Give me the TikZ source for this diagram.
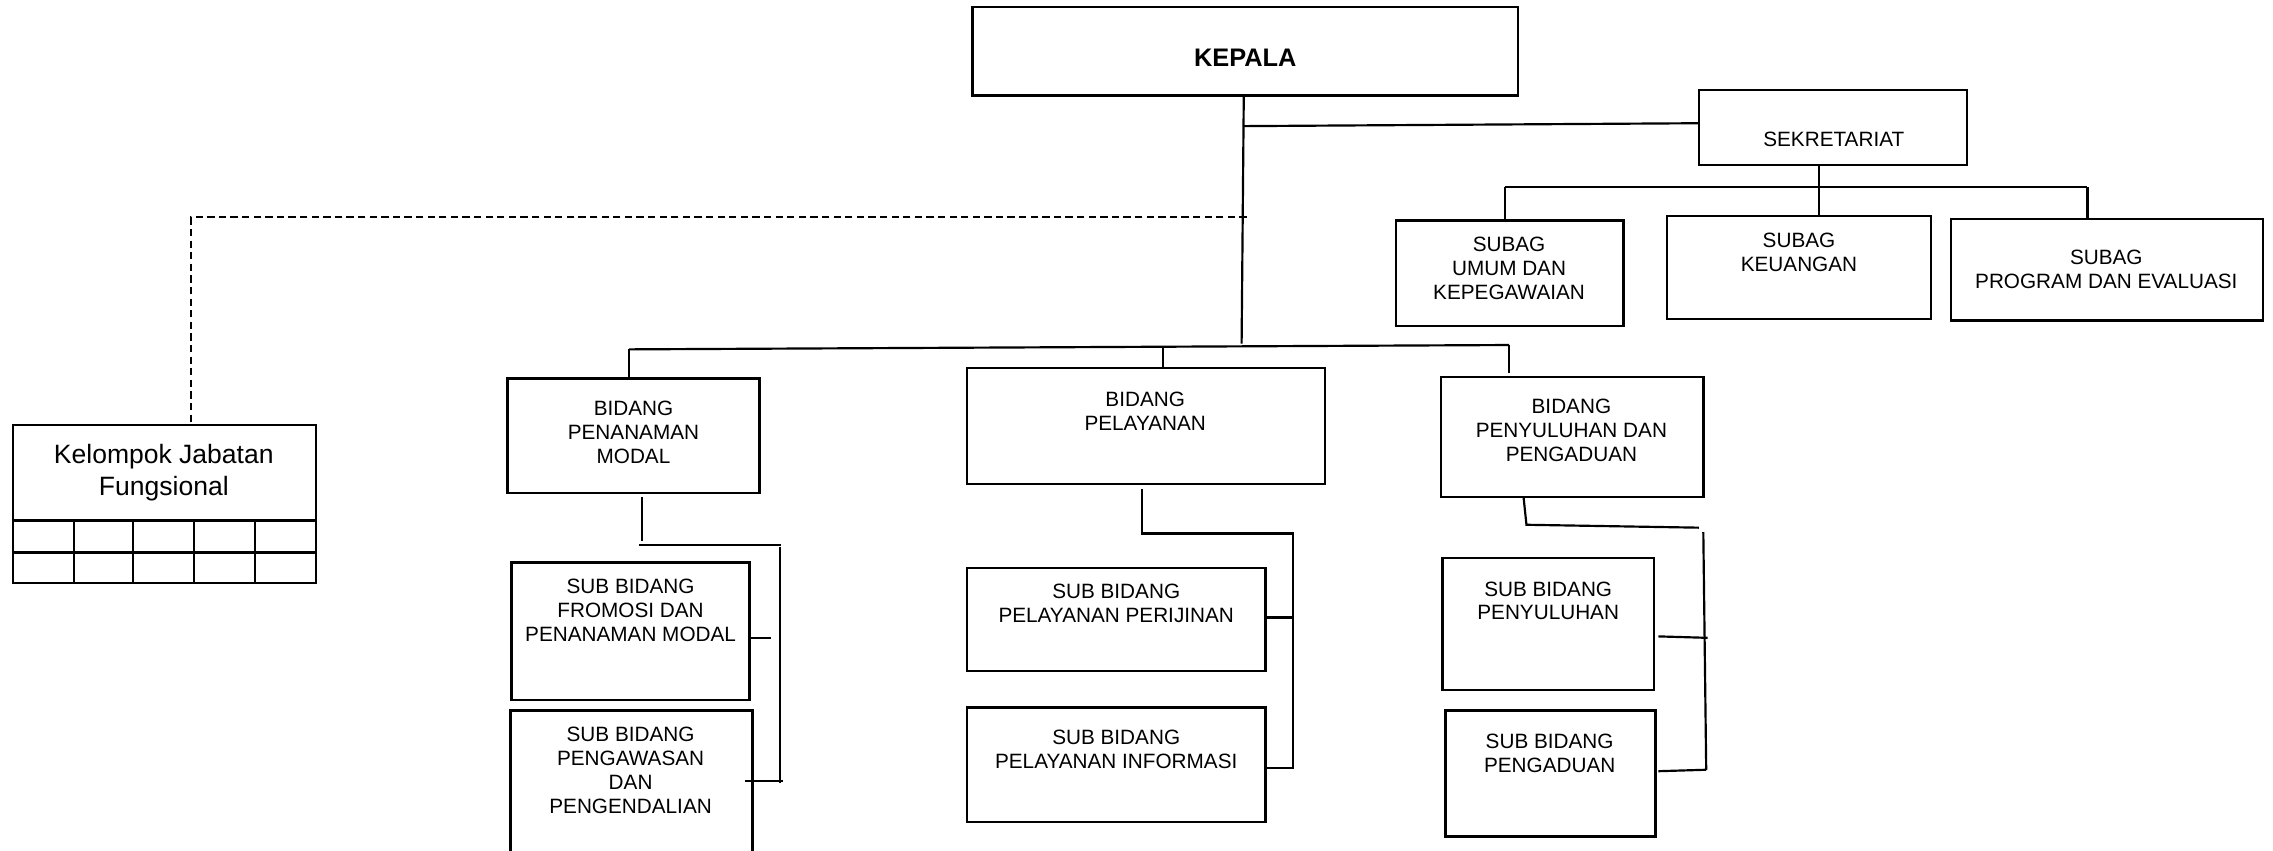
\documentclass[tikz,border=0pt]{standalone}
\usepackage{fontspec}
\setmainfont{Liberation Sans}
\begin{document}
\begin{tikzpicture}[x=1pt,y=-1pt]
\tikzset{
  box/.style={draw=black, line width=1.7pt, inner sep=0pt, fill=white},
  txt/.style={inner sep=0pt, align=center, font=\fontsize{14.3}{16.5}\selectfont},
  conn/.style={draw=black, line width=1.5pt},
  dashconn/.style={draw=black, line width=1.4pt, dash pattern=on 5pt off 3pt}
}
\useasboundingbox (0,0) rectangle (1568,587);
\clip (0,0) rectangle (1568,587);
\fill[white] (0,0) rectangle (1568,587);

% ---- boxes ----
\node[box, minimum width=376pt, minimum height=61pt] (kepala) at (859,35.5) {};
\node[box, minimum width=185pt, minimum height=52pt] (sek) at (1264.5,88) {};
\node[box, minimum width=157pt, minimum height=73pt] (sumum) at (1041.5,188.5) {};
\node[box, minimum width=182pt, minimum height=71pt] (skeu) at (1241,184.5) {};
\node[box, minimum width=215pt, minimum height=70pt] (sprog) at (1453.5,186) {};
\node[box, minimum width=209pt, minimum height=109pt] (kjf) at (113.5,347.5) {};
\node[box, minimum width=174pt, minimum height=79pt] (bpm) at (437,300.5) {};
\node[box, minimum width=247pt, minimum height=80pt] (bpel) at (790.5,294) {};
\node[box, minimum width=181pt, minimum height=83pt] (bpp) at (1084.5,301.5) {};
\node[box, minimum width=164pt, minimum height=95pt] (sfro) at (435,435.5) {};
\node[box, minimum width=167pt, minimum height=110pt] (speng) at (435.5,545) {};
\node[box, minimum width=206pt, minimum height=71pt] (sperij) at (770,427.5) {};
\node[box, minimum width=206pt, minimum height=79pt] (sinfo) at (770,527.5) {};
\node[box, minimum width=146pt, minimum height=91pt] (speny) at (1068,430.5) {};
\node[box, minimum width=145pt, minimum height=87pt] (spengad) at (1069.5,533.5) {};

% ---- grid of Kelompok Jabatan Fungsional ----
\draw[line width=1.7pt] (9,359) -- (218,359);
\draw[line width=1.7pt] (9,381) -- (218,381);
\foreach \gx in {51,92,134,176} { \draw[line width=1.5pt] (\gx,359) -- (\gx,402); }

% ---- texts ----
\node[txt, font=\fontsize{17.5}{20}\selectfont\bfseries] (kepalaT) at (859,40) {KEPALA};
\node[txt] (sekT) at (1265,96) {SEKRETARIAT};
\node[txt] (sumumT) at (1041,185) {SUBAG\\UMUM DAN\\KEPEGAWAIAN};
\node[txt] (skeuT) at (1241,174) {SUBAG\\KEUANGAN};
\node[txt] (sprogT) at (1453,185.5) {SUBAG\\PROGRAM DAN EVALUASI};
\node[txt, font=\fontsize{18.3}{22}\selectfont] (kjfT) at (113,326) {Kelompok Jabatan\\Fungsional};
\node[txt] (bpmT) at (437,298) {BIDANG\\PENANAMAN\\MODAL};
\node[txt] (bpelT) at (790,283.5) {BIDANG\\PELAYANAN};
\node[txt] (bppT) at (1084,297) {BIDANG\\PENYULUHAN DAN\\PENGADUAN};
\node[txt] (sfroT) at (435,421) {SUB BIDANG\\FROMOSI DAN\\PENANAMAN MODAL};
\node[txt] (spengT) at (435,531.5) {SUB BIDANG\\PENGAWASAN\\DAN\\PENGENDALIAN};
\node[txt] (sperijT) at (770,416) {SUB BIDANG\\PELAYANAN PERIJINAN};
\node[txt] (sinfoT) at (770,517) {SUB BIDANG\\PELAYANAN INFORMASI};
\node[txt] (spenyT) at (1068,414.5) {SUB BIDANG\\PENYULUHAN};
\node[txt] (spengadT) at (1069,520) {SUB BIDANG\\PENGADUAN};

% ---- junction coordinates ----
\coordinate (ktop) at (858,66);
\coordinate (mainbot) at (856.5,237);
\coordinate (jsek) at (858,87);
\coordinate (sekin) at (1172,85);
\coordinate (sekb) at (1255,114);
\coordinate (sbarL) at (1038,129);
\coordinate (sbarM) at (1255,129);
\coordinate (sbarR) at (1440,129);
\coordinate (sumumIn) at (1038,152);
\coordinate (skeuIn) at (1255,149);
\coordinate (sprogIn) at (1440,151);
\coordinate (dashR) at (860,150);
\coordinate (dashC) at (132,150);
\coordinate (kjfIn) at (132,293);
\coordinate (bbarL) at (434,241);
\coordinate (bbarM) at (802,239.5);
\coordinate (bbarR) at (1041,238);
\coordinate (bpmIn) at (434,261);
\coordinate (bpelIn) at (802,254);
\coordinate (bppIn) at (1041,257);
% penanaman modal branch
\coordinate (pmA) at (443,343);
\coordinate (pmB) at (443,373);
\coordinate (pmC) at (441,376);
\coordinate (pmD) at (539,376);
\coordinate (pmV1) at (538,377);
\coordinate (pmV2) at (538,540);
\coordinate (pmS1) at (532,440);
\coordinate (pmS2a) at (514,539);
\coordinate (pmS2b) at (540,539);
% pelayanan branch
\coordinate (plA) at (788,337);
\coordinate (plB) at (788,367);
\coordinate (plC) at (787,368);
\coordinate (plD) at (892,368);
\coordinate (plE) at (892,530);
\coordinate (plS1) at (892,426);
% penyuluhan branch
\coordinate (pyA) at (1051,343);
\coordinate (pyB) at (1053,362);
\coordinate (pyC) at (1172,364);
\coordinate (pyV1) at (1175,367);
\coordinate (pyV2) at (1177,531);
\coordinate (pyS1a) at (1144,439);
\coordinate (pyS1b) at (1178,440);
\coordinate (pyS2a) at (1144,532);

% ---- connectors ----
\draw[conn] (ktop) -- (mainbot);
\draw[conn] (jsek) -- (sekin);
\draw[conn] (sekb) -- (skeuIn);
\draw[conn] (sbarL) -- (sbarR);
\draw[conn] (sbarL) -- (sumumIn);
\draw[conn] (sbarR) -- (sprogIn);
\draw[dashconn] (dashR) -- (dashC) -- (kjfIn);
\draw[conn] (bbarL) -- (bbarR);
\draw[conn] (bbarL) -- (bpmIn);
\draw[conn] (bbarM) -- (bpelIn);
\draw[conn] (bbarR) -- (bppIn);

\draw[conn] (pmA) -- (pmB);
\draw[conn] (pmC) -- (pmD);
\draw[conn] (pmV1) -- (pmV2);
\draw[conn] (sfro.east |- pmS1) -- (pmS1);
\draw[conn] (pmS2a) -- (pmS2b);

\draw[conn] (plA) -- (plB);
\draw[conn] (plC) -- (plD) -- (plE) -- (sinfo.east |- plE);
\draw[conn] (sperij.east |- plS1) -- (plS1);

\draw[conn] (pyA) -- (pyB) -- (pyC);
\draw[conn] (pyV1) -- (pyV2);
\draw[conn] (pyS1a) -- (pyS1b);
\draw[conn] (pyS2a) -- (pyV2);
\end{tikzpicture}
\end{document}
